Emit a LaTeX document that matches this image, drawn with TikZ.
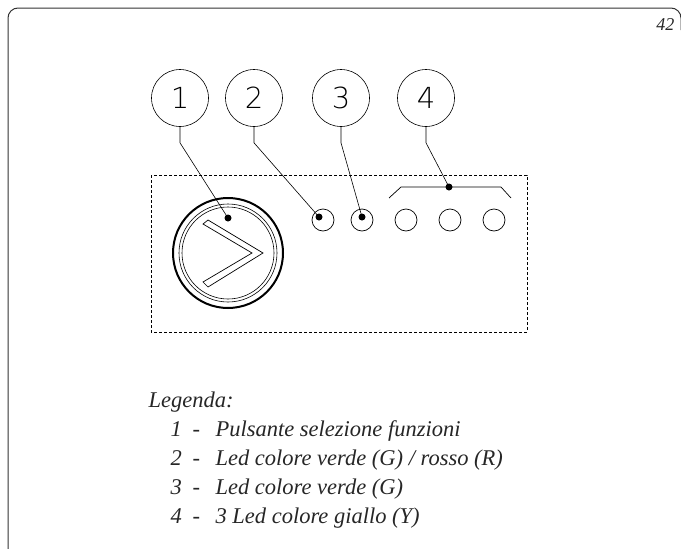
\documentclass[tikz,border=0pt]{standalone}
\usepackage{fontspec}
\setmainfont{Liberation Serif}
\newfontfamily\cadfont{DejaVu Sans ExtraLight}
\begin{document}
\begin{tikzpicture}[x=1pt,y=-1pt,
  frame/.style={draw=black!80,line width=1pt},
  callout/.style={draw,circle,minimum size=57pt,inner sep=0pt,line width=0.6pt,font=\cadfont\fontsize{29}{29}\selectfont},
  leader/.style={line width=0.6pt},
  led/.style={draw,circle,minimum size=22pt,inner sep=0pt,line width=0.7pt},
  pin/.style={fill,circle,minimum size=7pt,inner sep=0pt},
  legtext/.style={anchor=base west,font=\itshape\fontsize{22.5}{24}\selectfont,text=black!85}]
\useasboundingbox (0,0) rectangle (681,549);
% frame
\draw[frame] (8,549) -- (8,18) arc[start angle=180,end angle=270,radius=10] -- (671,8) arc[start angle=-90,end angle=0,radius=10] -- (681,30);
\node[anchor=base east,font=\itshape\fontsize{18}{18}\selectfont,text=black!85] (pg) at (678,30) {42};
% dashed panel
\draw[line width=0.6pt,dash pattern=on 3pt off 2pt] (151,175) rectangle (527,332);
% button
\coordinate (bc) at (228,253);
\draw[line width=2pt] (bc) circle[radius=55];
\draw[line width=0.6pt] (bc) circle[radius=49];
\draw[line width=0.6pt] (bc) circle[radius=46];
\draw[line width=0.7pt,line join=miter] (208,220) -- (263,253) -- (208,287) -- (203,282) -- (252,253) -- (203,224) -- cycle;
% leds
\node[led] (l1) at (323,220) {};
\node[led] (l2) at (362,220) {};
\node[led] (l3) at (406,220) {};
\node[led] (l4) at (450,220) {};
\node[led] (l5) at (494,220) {};
% bracket
\coordinate (b1) at (389,198);
\coordinate (b2) at (401,187);
\coordinate (b3) at (501,187);
\coordinate (b4) at (511,198);
\draw[line width=0.7pt] (b1) -- (b2) -- (b3) -- (b4);
% pins
\node[pin] (p1) at (228,218) {};
\node[pin] (p2) at (319,217) {};
\node[pin] (p3) at (362,217) {};
\node[pin] (p4) at (449,187) {};
% callouts
\node[callout] (c1) at (180,98) {1};
\node[callout] (c2) at (254,98) {2};
\node[callout] (c3) at (341,98) {3};
\node[callout] (c4) at (426,98) {4};
\draw[leader] (c1.south) -- ++(0,16) -- (p1.center);
\draw[leader] (c2.south) -- ++(0,16) -- (p2.center);
\draw[leader] (c3.south) -- ++(0,16) -- (p3.center);
\draw[leader] (c4.south) -- ++(0,16) -- (p4.center);
% legend
\node[legtext] (lg) at (145,407) {Legenda:};
\node[legtext] (n1) at (167,436) {1};
\node[legtext] (d1) at (189,436) {-};
\node[legtext] (t1) at (212,436) {Pulsante selezione funzioni};
\node[legtext] (n2) at (167,465) {2};
\node[legtext] (d2) at (189,465) {-};
\node[legtext] (t2) at (212,465) {Led colore verde (G) / rosso (R)};
\node[legtext] (n3) at (167,494) {3};
\node[legtext] (d3) at (189,494) {-};
\node[legtext] (t3) at (212,494) {Led colore verde (G)};
\node[legtext] (n4) at (167,523) {4};
\node[legtext] (d4) at (189,523) {-};
\node[legtext] (t4) at (212,523) {3 Led colore giallo (Y)};
\end{tikzpicture}
\end{document}
